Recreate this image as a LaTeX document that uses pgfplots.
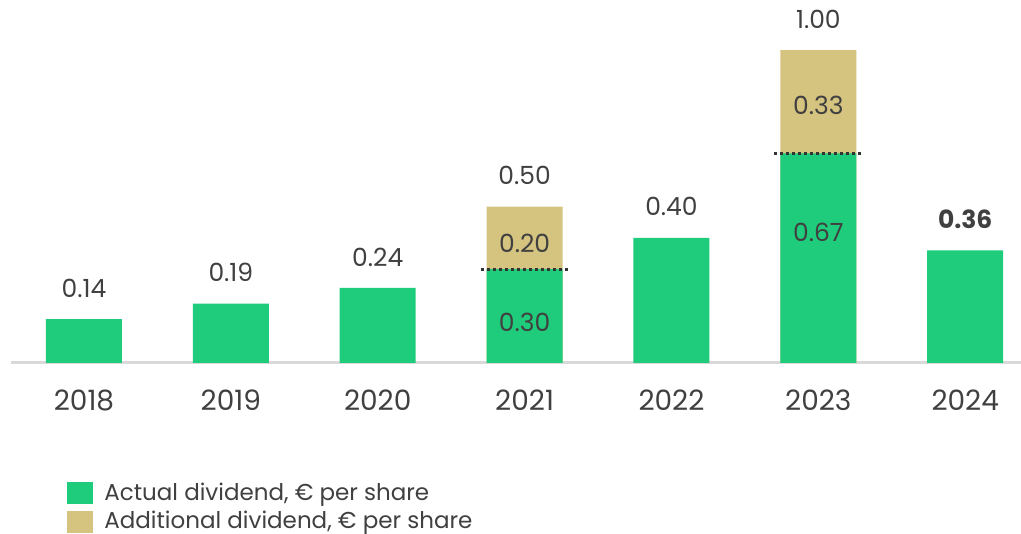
\documentclass[border=0pt]{standalone}
\usepackage{pgfplots}
\pgfplotsset{compat=1.18}
\usepackage{fontspec}
\setmainfont{Poppins}
\definecolor{divgreen}{RGB}{30,204,123}
\definecolor{divgold}{RGB}{213,195,128}
\definecolor{txt}{RGB}{64,64,64}
\begin{document}
\begin{tikzpicture}
\path[use as bounding box] (0,0) rectangle (510.5pt,267pt);
\begin{axis}[
  at={(5.5pt,85.5pt)}, anchor=south west,
  width=505pt, height=181.5pt, scale only axis,
  xmin=-0.497, xmax=6.38, ymin=0, ymax=1.16,
  axis y line=none, axis x line*=bottom,
  x axis line style={-, draw=black!15, line width=1.5pt},
  xtick={0,...,6}, xticklabels={2018,2019,2020,2021,2022,2023,2024},
  major tick length=0pt,
  xticklabel style={font=\fontsize{14}{16}\selectfont, text=txt, anchor=center, yshift=-18.5pt},
  ybar, bar width=38pt, bar shift=0pt,
  clip=false,
  legend style={at={(0.0554,-0.318)}, anchor=north west, draw=none, fill=none,
    font=\fontsize{11.5}{13.5}\selectfont, text=txt, inner sep=0pt,
    cells={anchor=west},
    /tikz/every odd column/.append style={column sep=3.5pt}},
  legend image code/.code={\fill[#1] (0pt,-5.5pt) rectangle (13pt,5.5pt);},
]
% additional dividend (total height, drawn underneath)
\addplot[forget plot, fill=divgold, draw=none] coordinates {(3,0.50) (5,1.00)};
% actual dividend
\addplot[forget plot, fill=divgreen, draw=none] coordinates
  {(0,0.14) (1,0.19) (2,0.24) (3,0.30) (4,0.40) (5,0.67) (6,0.36)};
% split markers
\addplot[forget plot, sharp plot, draw=black!80, line width=1.5pt, dash pattern=on 1.5pt off 1.5pt]
  coordinates {(2.70,0.30) (3.30,0.30)};
\addplot[forget plot, sharp plot, draw=black!80, line width=1.5pt, dash pattern=on 1.5pt off 1.5pt]
  coordinates {(4.70,0.67) (5.30,0.67)};
% total labels
\addplot[forget plot, only marks, mark=none, point meta=explicit symbolic,
  nodes near coords, nodes near coords style={anchor=center, yshift=15.5pt, text=txt,
  font=\fontsize{12.5}{14}\selectfont}]
  coordinates {(0,0.14) [0.14] (1,0.19) [0.19] (2,0.24) [0.24] (3,0.50) [0.50]
               (4,0.40) [0.40] (5,1.00) [1.00] (6,0.36) [\textbf{0.36}]};
% inner labels
\addplot[forget plot, only marks, mark=none, point meta=explicit symbolic,
  nodes near coords, nodes near coords style={anchor=center, text=txt,
  font=\fontsize{12.5}{14}\selectfont}]
  coordinates {(3,0.131) [0.30] (3,0.381) [0.20] (5,0.417) [0.67] (5,0.824) [0.33]};
\addlegendimage{fill=divgreen, draw=none}
\addlegendentry{Actual dividend, € per share}
\addlegendimage{fill=divgold, draw=none}
\addlegendentry{Additional dividend, € per share}
\end{axis}
\end{tikzpicture}
\end{document}
